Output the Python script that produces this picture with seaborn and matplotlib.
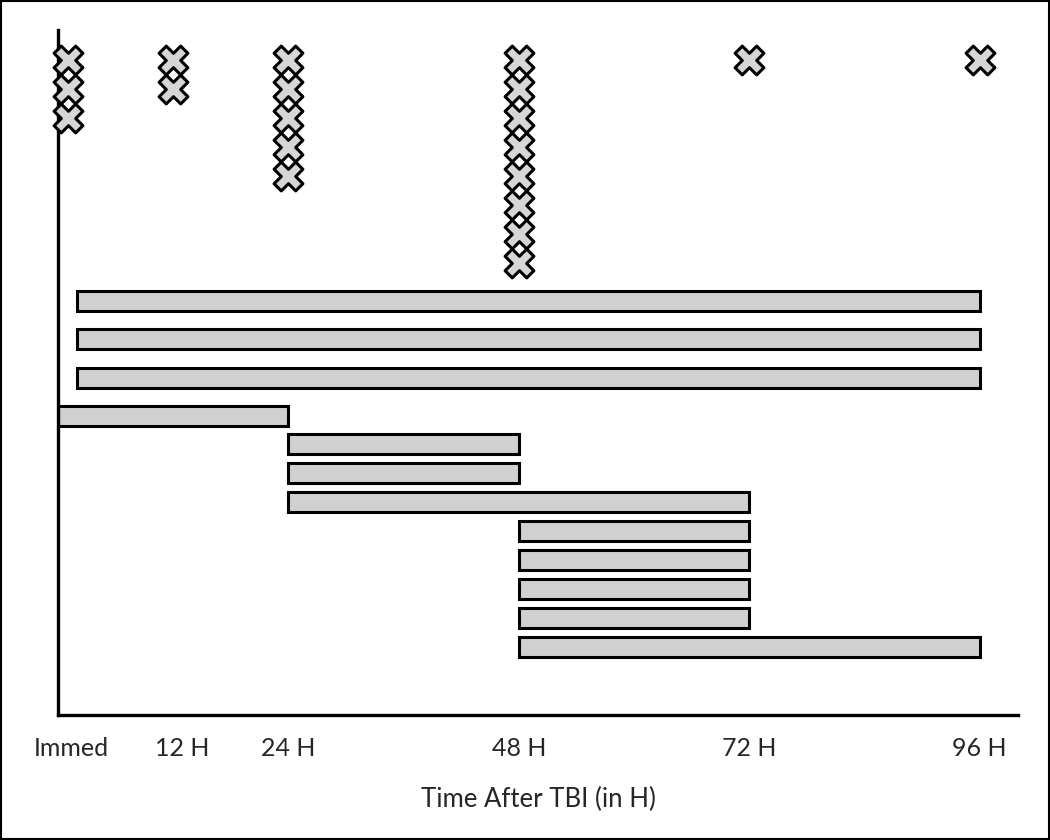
import pandas as pd
import numpy as np

import matplotlib.pyplot as plt
import matplotlib.transforms as mtransforms
from matplotlib.patches import Rectangle
import seaborn as sns

# %%
# time points (hours after TBI) and tick labels
times = [0, 12, 24, 48, 72, 96]
tick_labels = ["Immed", "12 H", "24 H", "48 H", "72 H", "96 H"]

# single-time-point studies (crosses): where each column sits and how many
marker_times = [1, 12, 24, 48, 72, 96]
marker_counts = [3, 2, 5, 8, 1, 1]

# time windows covered by each study (bars)
bar_start = [2, 2, 2, 0, 24, 24, 24, 48, 48, 48, 48, 48]
bar_end = [96, 96, 96, 24, 48, 48, 72, 72, 72, 72, 72, 96]

# %%
sns.set_style("white")
plt.rcParams["font.family"] = ["Lato", "DejaVu Sans"]

# one row per cross, stacked downward from the top
pts = pd.DataFrame({
    "time": np.repeat(marker_times, marker_counts),
    "row": np.concatenate([np.arange(n) for n in marker_counts]) + 1.03,
})

# bar lanes: first four a bit wider apart, then one marker step each
n_bars = len(bar_start)
lanes = [9.33 + 1.33 * i if i < 4 else 14.29 + (i - 4) for i in range(n_bars)]
bars = pd.DataFrame({"start": bar_start, "end": bar_end, "lane": lanes})

fig = plt.figure(figsize=(10.5, 8.4), dpi=100)
ax = fig.add_axes([58 / 1050, 1 - 715 / 840, 960 / 1050, 685 / 840])

ax.barh(
    bars["lane"],
    bars["end"] - bars["start"],
    left=bars["start"],
    height=0.69,
    color="#d0d0d0",
    edgecolor="black",
    linewidth=2.2,
    zorder=2,
)

sns.scatterplot(
    data=pts, x="time", y="row",
    marker="X", s=430,
    color="#d6d6d6", edgecolor="black", linewidth=2.2,
    ax=ax, zorder=3, clip_on=False,
)

ax.set_xlim(0, 100)
ax.set_ylim(685 / 29, 0)

ax.set_xticks(times)
ax.set_xticklabels(tick_labels, fontsize=18)
ax.set_yticks([])
ax.tick_params(axis="x", length=0, pad=16)

# the first two labels sit a little right of their tick in the original
for lab, dx in zip(ax.get_xticklabels()[:2], [13, 9]):
    lab.set_transform(lab.get_transform() + mtransforms.ScaledTranslation(dx / 100, 0, fig.dpi_scale_trans))

ax.set_xlabel("Time After TBI (in H)", fontsize=18.5, labelpad=19)
ax.set_ylabel("")

sns.despine(ax=ax)
for s in ["left", "bottom"]:
    ax.spines[s].set_linewidth(2.4)
    ax.spines[s].set_color("black")

# frame around the whole figure
fig.patches.append(Rectangle((0.001, 0.001), 0.998, 0.998, transform=fig.transFigure,
                             fill=False, edgecolor="black", linewidth=1.5))

fig.savefig("out.png", dpi=100)
